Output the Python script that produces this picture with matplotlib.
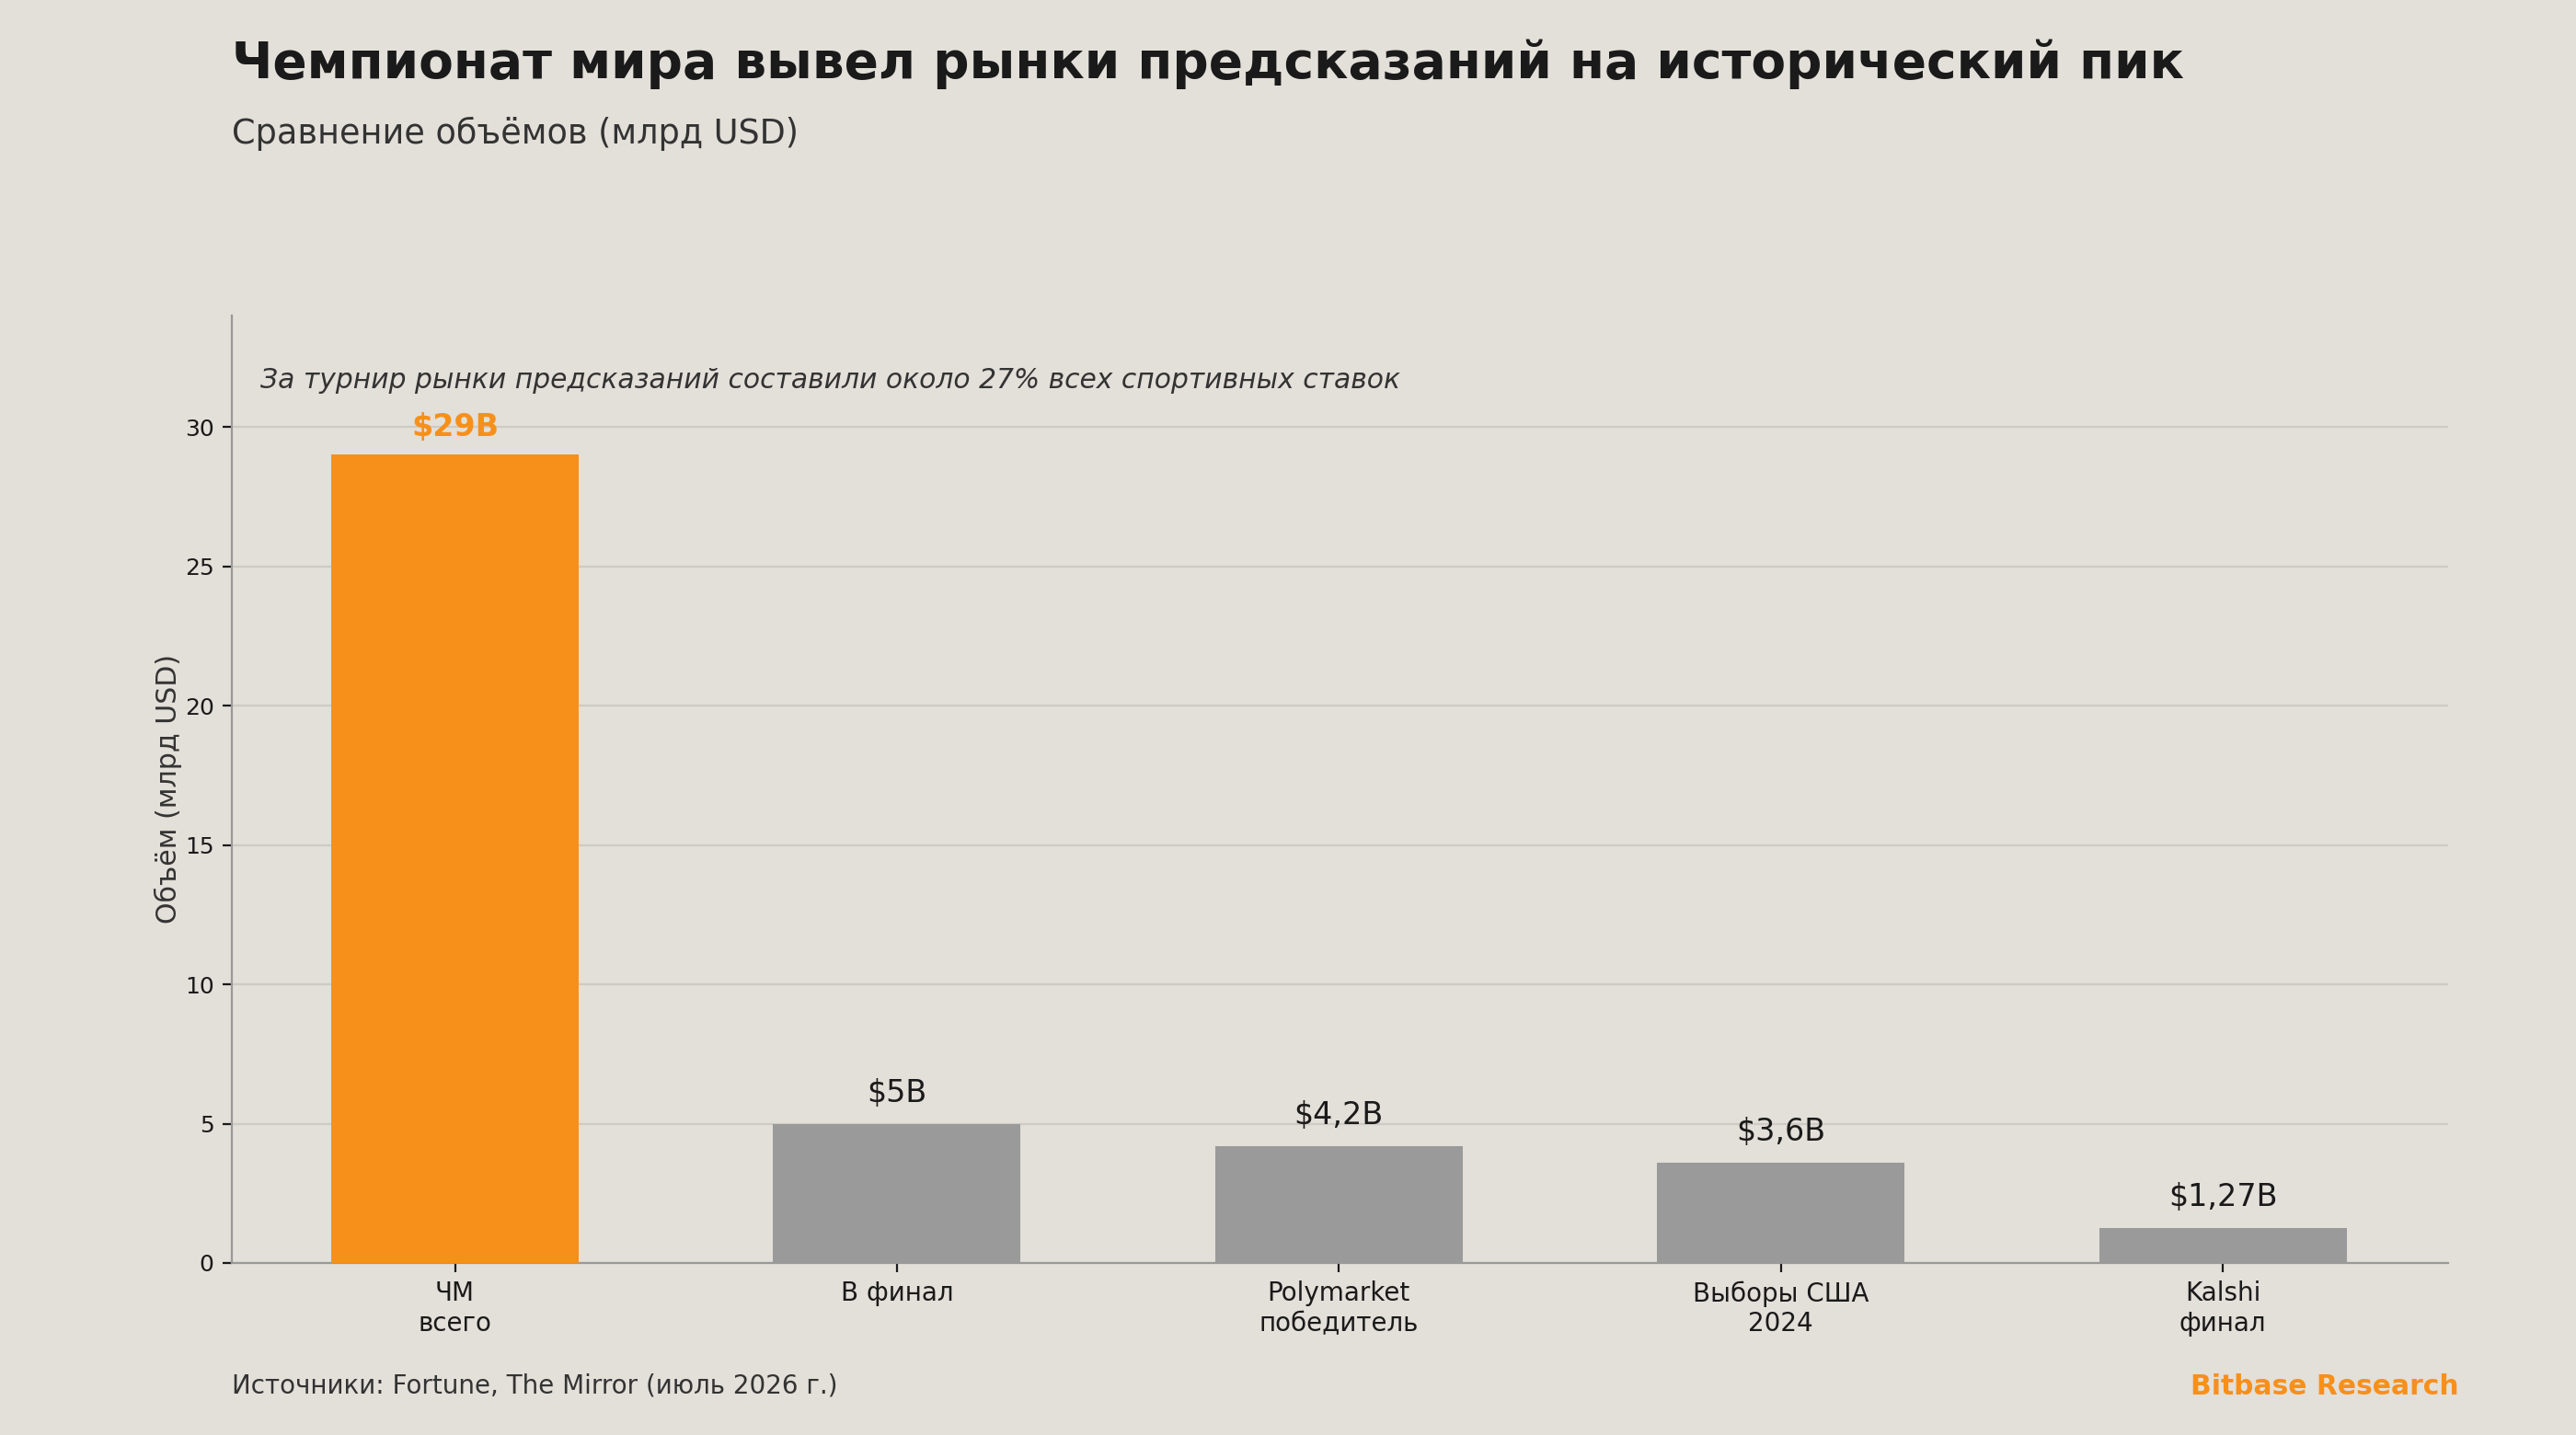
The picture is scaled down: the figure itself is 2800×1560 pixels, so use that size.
import matplotlib.pyplot as plt
import numpy as np

# data
categories = ["ЧМ\nвсего", "В финал", "Polymarket\nпобедитель", "Выборы США\n2024", "Kalshi\nфинал"]
volumes = [29, 5, 4.2, 3.6, 1.27]
value_labels = ["$29B", "$5B", "$4,2B", "$3,6B", "$1,27B"]

BG = "#E3DFD9"
ORANGE = "#F7901A"
GREY = "#9A9A9A"

plt.rcParams['font.family'] = ['DejaVu Sans']

fig = plt.figure(figsize=(14, 7.8), dpi=200, facecolor=BG)
ax = fig.add_axes([252 / 2800, 1 - 1373 / 1560, (2661 - 252) / 2800, (1373 - 343) / 1560])
ax.set_facecolor(BG)

x = np.arange(len(categories))
colors = [ORANGE] + [GREY] * (len(categories) - 1)
bars = ax.bar(x, volumes, width=0.56, color=colors, zorder=3)

for i, (b, lab) in enumerate(zip(bars, value_labels)):
    if i == 0:
        ax.annotate(lab, (b.get_x() + b.get_width() / 2, b.get_height()), xytext=(0, 5),
                    textcoords='offset points', ha='center', va='bottom',
                    fontsize=12, fontweight='bold', color=ORANGE)
    else:
        ax.annotate(lab, (b.get_x() + b.get_width() / 2, b.get_height()), xytext=(0, 6),
                    textcoords='offset points', ha='center', va='bottom',
                    fontsize=12, color='#1a1a1a')

ax.set_xlim(-0.505, 4.51)
ax.set_ylim(0, 34)
ax.set_yticks([0, 5, 10, 15, 20, 25, 30])
ax.set_xticks(x)
ax.set_xticklabels(categories, fontsize=10, color='#1a1a1a')
ax.tick_params(axis='y', labelsize=9, colors='#1a1a1a')
ax.tick_params(axis='x', colors='#1a1a1a')
ax.set_ylabel("Объём (млрд USD)", fontsize=10.8, color='#333333', labelpad=1)

ax.grid(axis='y', color='#CFCAC3', linewidth=0.8, zorder=0)
ax.set_axisbelow(True)
for s in ['top', 'right']:
    ax.spines[s].set_visible(False)
for s in ['left', 'bottom']:
    ax.spines[s].set_color('#999999')

ax.text(0.013, 0.932, "За турнир рынки предсказаний составили около 27% всех спортивных ставок",
        transform=ax.transAxes, fontsize=10.7, style='italic', color='#333333', va='center')

fig.text(252 / 2800, 1 - 70 / 1560, "Чемпионат мира вывел рынки предсказаний на исторический пик",
         fontsize=19.8, fontweight='bold', color='#1a1a1a', va='center')
fig.text(252 / 2800, 1 - 145 / 1560, "Сравнение объёмов (млрд USD)",
         fontsize=13.2, color='#333333', va='center')
fig.text(252 / 2800, 1 - 1507 / 1560, "Источники: Fortune, The Mirror (июль 2026 г.)",
         fontsize=10, color='#333333', va='center')
fig.text(2673 / 2800, 1 - 1507 / 1560, "Bitbase Research",
         fontsize=10.7, fontweight='bold', color=ORANGE, va='center', ha='right')

fig.savefig("out.png", dpi=200, facecolor=BG)
